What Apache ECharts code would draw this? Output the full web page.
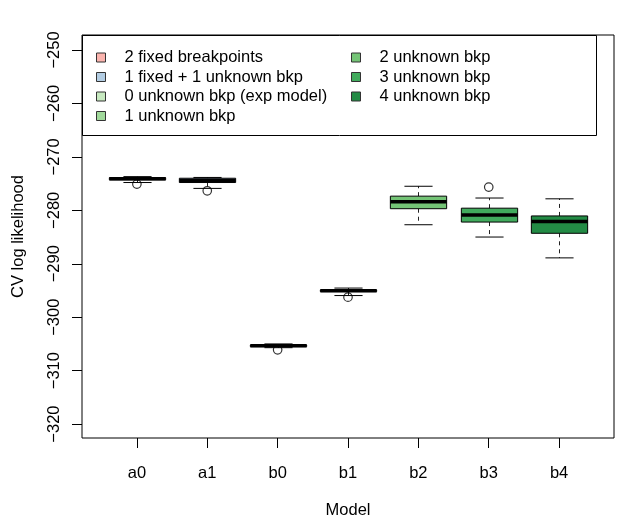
<!DOCTYPE html>
<html>
<head>
<meta charset="utf-8">
<title>CV log likelihood by model</title>
<script src="https://cdn.jsdelivr.net/npm/echarts@6/dist/echarts.min.js"></script>
<style>
  html, body { margin: 0; padding: 0; background: #fff; }
  #container { width: 622px; height: 524px; }
</style>
</head>
<body>
<div id="container"></div>
<script>
// categories on the x axis
var models = ['a0', 'a1', 'b0', 'b1', 'b2', 'b3', 'b4'];
// legend label for each model
var groupNames = [
	'2 fixed breakpoints',
	'1 fixed + 1 unknown bkp',
	'0 unknown bkp (exp model)',
	'1 unknown bkp',
	'2 unknown bkp',
	'3 unknown bkp',
	'4 unknown bkp'
];
// box stats per model: [lower whisker, Q1, median, Q3, upper whisker]
var boxStats = [
	[-274.8, -274.3, -274.1, -273.9, -273.7],
	[-275.9, -274.8, -274.4, -274.0, -273.85],
	[-305.7, -305.5, -305.35, -305.2, -305.0],
	[-295.95, -295.2, -295.05, -294.9, -294.55],
	[-282.7, -279.7, -278.4, -277.35, -275.5],
	[-285.0, -282.2, -280.9, -279.6, -277.7],
	[-288.9, -284.3, -282.1, -281.05, -277.85]
];
// outliers: [model index, value]
var outliers = [
	[0, -275.1],
	[1, -276.35],
	[2, -306.1],
	[3, -296.25],
	[5, -275.65]
];
var yTicks = [-320, -310, -300, -290, -280, -270, -260, -250];

// styles
var fills = ['#FBB4AE', '#B3CDE3', '#C7E9C0', '#A1D99B', '#74C476', '#41AB5D', '#238B45'];
var fontFamily = '"Liberation Sans", Arial, sans-serif';
var fontSize = 16.5;

var dom = document.getElementById('container');
var myChart = echarts.init(dom, null, { renderer: 'canvas' });

function renderBox(params, api) {
	var x = api.value(0);
	var pMin = api.coord([x, api.value(1)]);
	var pQ1 = api.coord([x, api.value(2)]);
	var pMed = api.coord([x, api.value(3)]);
	var pQ3 = api.coord([x, api.value(4)]);
	var pMax = api.coord([x, api.value(5)]);
	var half = api.size([0.8, 0])[0] / 2;   // boxwex 0.8
	var cap = half / 2;                      // staplewex 0.5
	var cx = Math.round(pMed[0]) + 0.5;
	var color = api.visual('color');
	var dash = { stroke: '#222', lineWidth: 1, lineDash: [4, 4] };
	var solid = { stroke: '#000', lineWidth: 1 };
	return {
		type: 'group',
		children: [
			{ type: 'line', shape: { x1: cx, y1: pQ3[1], x2: cx, y2: pMax[1] }, style: dash },
			{ type: 'line', shape: { x1: cx, y1: pQ1[1], x2: cx, y2: pMin[1] }, style: dash },
			{ type: 'line', shape: { x1: cx - cap, y1: pMax[1], x2: cx + cap, y2: pMax[1] }, style: solid },
			{ type: 'line', shape: { x1: cx - cap, y1: pMin[1], x2: cx + cap, y2: pMin[1] }, style: solid },
			{
				type: 'rect',
				shape: { x: cx - half, y: pQ3[1], width: half * 2, height: pQ1[1] - pQ3[1] },
				style: { fill: color, stroke: '#000', lineWidth: 1 }
			},
			{ type: 'line', shape: { x1: cx - half, y1: pMed[1], x2: cx + half, y2: pMed[1] }, style: { stroke: '#000', lineWidth: 3.5 } }
		]
	};
}

var series = [];
for (var i = 0; i < models.length; i++) {
	series.push({
		name: groupNames[i],
		type: 'custom',
		renderItem: renderBox,
		itemStyle: { color: fills[i] },
		encode: { x: 0, y: [1, 2, 3, 4, 5] },
		data: [[i + 1].concat(boxStats[i])],
		z: 2
	});
}
series.push({
	name: 'outliers',
	type: 'scatter',
	symbol: 'circle',
	symbolSize: 8.5,
	itemStyle: { color: 'rgba(0,0,0,0)', borderColor: '#000', borderWidth: 1.2 },
	data: outliers.map(function(o) { return [o[0] + 1, o[1]]; }),
	z: 3
});

var xTickPos = models.map(function(m, i) { return i + 1; });

var legendBase = {
	orient: 'vertical',
	top: 49,
	padding: 0,
	itemGap: 2.5,
	itemWidth: 9,
	itemHeight: 9,
	icon: 'rect',
	selectedMode: false,
	itemStyle: { borderColor: '#333', borderWidth: 1 },
	textStyle: { fontFamily: fontFamily, fontSize: fontSize, color: '#000', padding: [0, 0, 0, 14] }
};

var option = {
	animation: false,
	backgroundColor: '#fff',
	textStyle: { fontFamily: fontFamily },
	grid: {
		left: 82,
		right: 8,
		top: 35,
		bottom: 82,
		show: true,
		borderColor: '#000',
		borderWidth: 1,
		backgroundColor: 'rgba(0,0,0,0)'
	},
	legend: [
		echarts.util.extend({ left: 96, data: groupNames.slice(0, 4) }, legendBase),
		echarts.util.extend({ left: 351, data: groupNames.slice(4) }, legendBase)
	],
	graphic: [{
		type: 'rect',
		shape: { x: 82.5, y: 35.5, width: 514, height: 100 },
		style: { fill: 'none', stroke: '#000', lineWidth: 1 },
		z: 10
	}],
	xAxis: {
		type: 'value',
		min: 0.22,
		max: 7.78,
		name: 'Model',
		nameLocation: 'middle',
		nameGap: 64,
		nameTextStyle: { fontFamily: fontFamily, fontSize: fontSize, color: '#000' },
		axisLine: { show: false },
		splitLine: { show: false },
		axisTick: { show: true, customValues: xTickPos, length: 10, lineStyle: { color: '#000' } },
		axisLabel: {
			customValues: xTickPos,
			margin: 27,
			fontSize: fontSize,
			color: '#000',
			fontFamily: fontFamily,
			formatter: function(v) { return models[Math.round(v) - 1]; }
		}
	},
	yAxis: {
		type: 'value',
		min: -322.6,
		max: -247.2,
		name: 'CV log likelihood',
		nameLocation: 'middle',
		nameGap: 55,
		nameTextStyle: { fontFamily: fontFamily, fontSize: fontSize, color: '#000' },
		axisLine: { show: false },
		splitLine: { show: false },
		axisTick: { show: true, customValues: yTicks, length: 10, lineStyle: { color: '#000' } },
		axisLabel: {
			customValues: yTicks,
			rotate: 90,
			margin: 19,
			fontSize: fontSize,
			color: '#000',
			fontFamily: fontFamily,
			formatter: function(v) { return String(v).replace('-', '\u2212'); }
		}
	},
	series: series
};

if (option && typeof option === 'object') {
	myChart.setOption(option, true);
}
</script>
</body>
</html>
